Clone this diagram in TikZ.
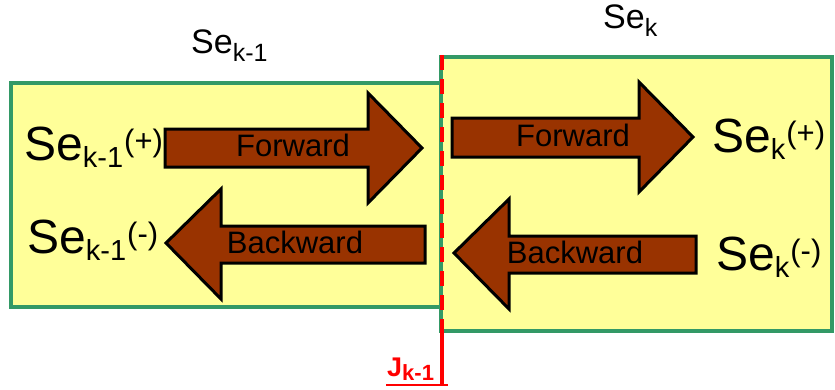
\documentclass[tikz,border=0pt]{standalone}
\usepackage{fontspec}
\setmainfont{Liberation Sans}
\definecolor{boxfill}{HTML}{FFFF99}
\definecolor{boxline}{HTML}{339966}
\definecolor{arrfill}{HTML}{993300}
\definecolor{jred}{HTML}{FF0000}
\tikzset{
  segbox/.style={fill=boxfill, draw=boxline, line width=4pt},
  bigarrow/.style={fill=arrfill, draw=black, line width=3pt, line join=miter},
  arrtext/.style={inner sep=0pt, anchor=base, font=\fontsize{31}{33}\selectfont},
  sidelab/.style={inner sep=0pt, anchor=base west},
  titlelab/.style={inner sep=0pt, anchor=base west},
  jline/.style={draw=jred, line width=3.5pt},
}
\newcommand{\bigse}[2]{{\fontsize{48}{52}\selectfont Se\raisebox{-7pt}{\fontsize{29}{31}\selectfont #1}\kern1pt\raisebox{9pt}{\fontsize{31}{33}\selectfont (#2)}}}
\newcommand{\titlese}[1]{{\fontsize{34}{36}\selectfont Se\raisebox{-8pt}{\fontsize{25}{27}\selectfont #1}}}
\begin{document}
\begin{tikzpicture}[x=1pt,y=-1pt]
\useasboundingbox (0,0) rectangle (835,389);
% segment boxes
\draw[segbox] (11,83) rectangle (441,307);
\draw[segbox] (441,57) rectangle (832,331);
% arrows
\draw[bigarrow] (165,129) -- (368,129) -- (368,93) -- (422,148) -- (368,203) -- (368,167) -- (165,167) -- cycle;
\draw[bigarrow] (452,118) -- (639,118) -- (639,82) -- (693,137) -- (639,192) -- (639,157) -- (452,157) -- cycle;
\draw[bigarrow] (425,226) -- (221,226) -- (221,189) -- (166,243) -- (221,299) -- (221,263) -- (425,263) -- cycle;
\draw[bigarrow] (696,236) -- (509,236) -- (509,199) -- (454,253) -- (509,309) -- (509,273) -- (696,273) -- cycle;
% arrow labels
\node[arrtext] (fl) at (293,156) {Forward};
\node[arrtext] (fr) at (573,146) {Forward};
\node[arrtext] (bl) at (295,253) {Backward};
\node[arrtext] (br) at (575,263) {Backward};
% side labels
\node[sidelab] (lp) at (24,160) {\bigse{k-1}{+}};
\node[sidelab] (lm) at (27,253) {\bigse{k-1}{-}};
\node[sidelab] (rp) at (712,152) {\bigse{k}{+}};
\node[sidelab] (rm) at (716,270) {\bigse{k}{-}};
% titles
\node[titlelab] (tl) at (191,53) {\titlese{k-1}};
\node[titlelab] (tr) at (603,28) {\titlese{k}};
% junction
\coordinate (jtop) at (442,55);
\coordinate (jmid) at (442,330);
\coordinate (jbot) at (442,386);
\coordinate (ul) at (386,385);
\coordinate (ur) at (448,385);
\draw[jline, dash pattern=on 15pt off 9pt] (jtop) -- (jmid);
\draw[jline] (jmid) -- (jbot);
\draw[jline, line width=2.5pt] (ul) -- (ur);
\node[inner sep=0pt, anchor=base west, text=jred, font=\bfseries\fontsize{27}{29}\selectfont] (jl) at (387,376) {J\raisebox{-4pt}{\fontsize{22}{24}\selectfont k-1}};
\end{tikzpicture}
\end{document}
